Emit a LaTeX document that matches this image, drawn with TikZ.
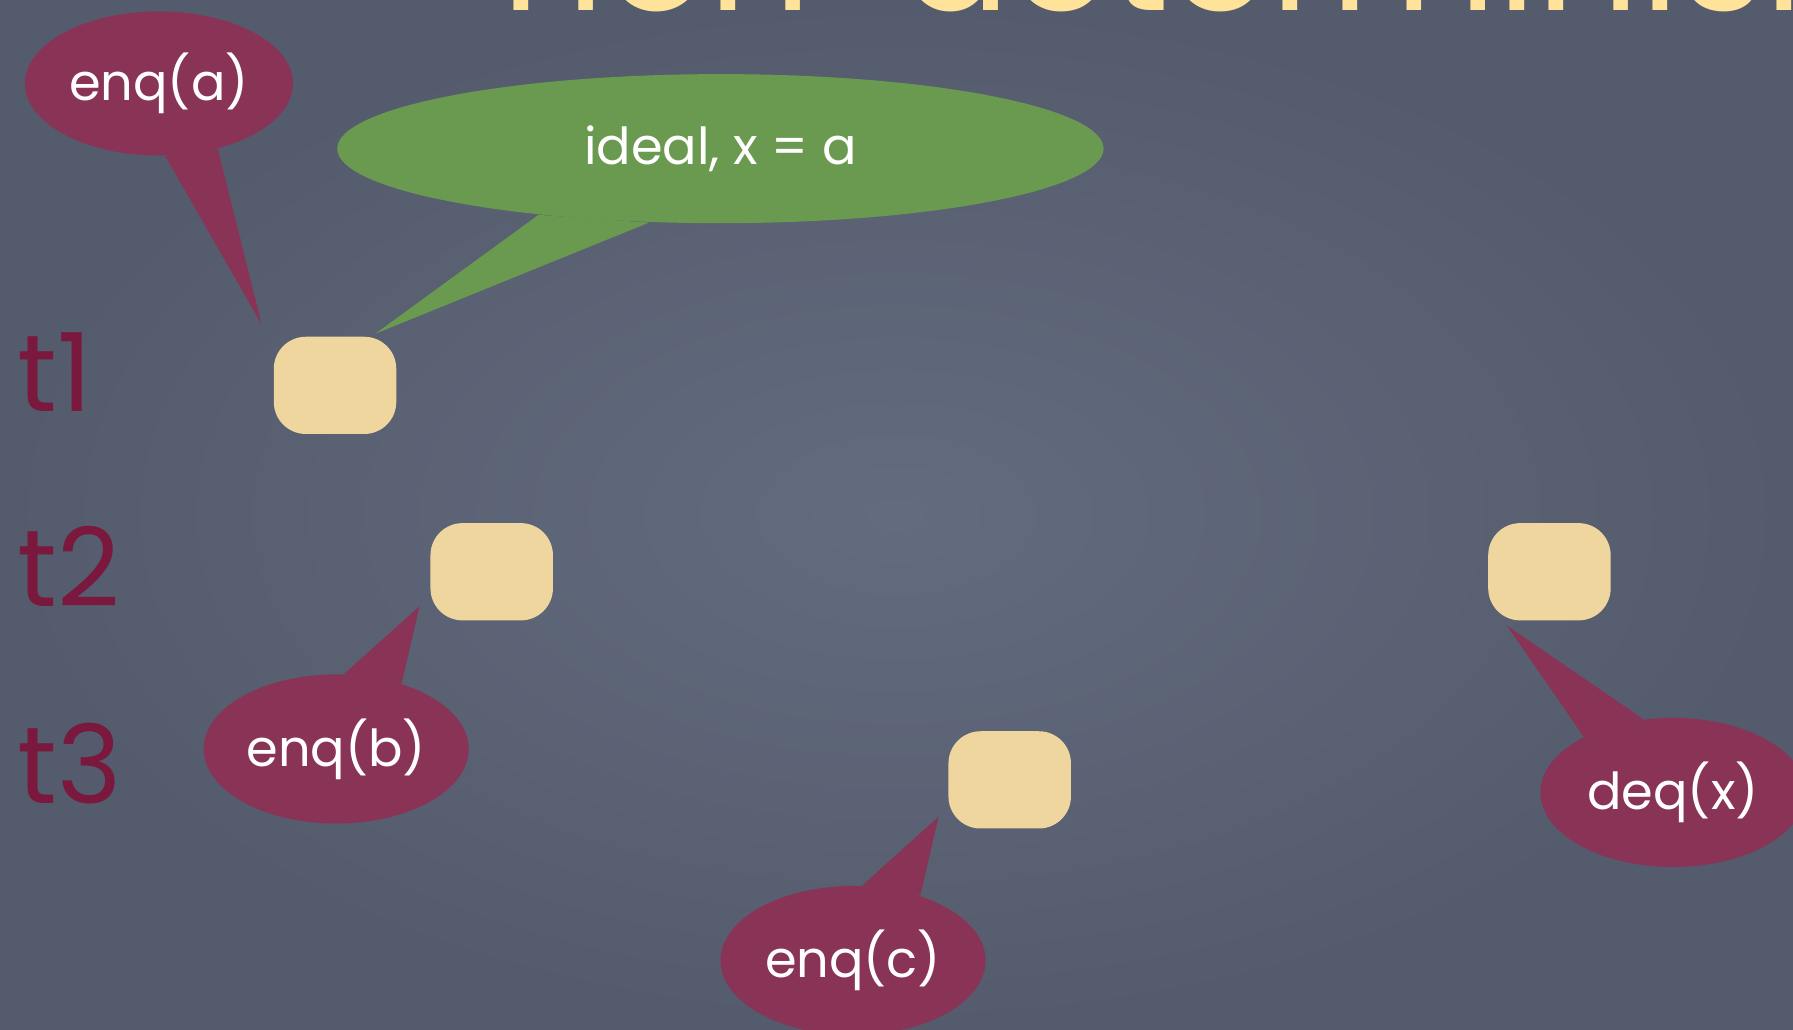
\documentclass[tikz,border=0pt]{standalone}
\usepackage{fontspec}
\setmainfont{Poppins}
\usepackage{xcolor}
\usetikzlibrary{calc,positioning,shapes.geometric}
\definecolor{boardhi}{HTML}{636B7F}
\definecolor{boardlo}{HTML}{545B6C}
\definecolor{plum}{HTML}{893456}
\definecolor{leaf}{HTML}{6A9950}
\definecolor{sand}{HTML}{EED69E}
\definecolor{chalkred}{HTML}{7A183E}
\definecolor{chalkyel}{HTML}{FFE39B}
\tikzset{
  slot/.style={rectangle, rounded corners=0.32cm, fill=sand, minimum width=1.224cm, minimum height=0.972cm, inner sep=0pt},
  bubble/.style={ellipse, fill=plum, text=white, inner sep=0pt, minimum width=2.65cm, minimum height=1.49cm, font=\fontsize{14.5}{17}\selectfont},
  idea/.style={bubble, fill=leaf, minimum width=7.66cm},
  rowlab/.style={anchor=west, inner sep=0pt, text=chalkred, font=\fontsize{31}{31}\selectfont},
  every picture/.style={line cap=round, line join=round}
}

\begin{document}
\begin{tikzpicture}[x=0.011435cm, y=-0.011435cm]
    % board
    \useasboundingbox (0,0) rectangle (1568,900);
    \shade[inner color=boardhi, outer color=boardlo] (0,0) rectangle (1568,900);
    % title, cut off by the top edge
    \node[anchor=base west, inner sep=0pt, text=chalkyel, font=\fontsize{46}{46}\selectfont] (title) at (438,9) {non-determinism};

    % time rows
    \node[rowlab] (t1) at (15,325) {t1};
    \node[rowlab] (t2) at (15,495) {t2};
    \node[rowlab] (t3) at (15,668) {t3};

    % slots
    \node[slot] (s1) at (293,337) {};
    \node[slot] (s2) at (430,500) {};
    \node[slot] (s3) at (1355,500) {};
    \node[slot] (s4) at (883,682) {};

    % callouts
    \node[bubble, minimum width=2.68cm, minimum height=1.44cm] (qa) at (139,73) {enq(a)};
    \node[idea] (id) at (630,130) {ideal, x = a};
    \node[bubble] (qb) at (294,655) {enq(b)};
    \node[bubble] (qc) at (746,840) {enq(c)};
    \node[bubble] (dx) at (1463,693) {deq(x)};

    \coordinate (pa) at ($(s1.north west)+(-10,-10)$);
    \coordinate (pi) at ($(s1.north east)+(-19,-2)$);
    \coordinate (pb) at ($(s2.south west)+(-9,-13)$);
    \coordinate (pc) at ($(s4.south west)+(-8,-11)$);
    \coordinate (px) at ($(s3.south west)+(17,4)$);

    \fill[plum] (qa.-85) -- (pa) -- (qa.-48) -- cycle;
    \fill[leaf] (id.200) -- (pi) -- (id.-134) -- cycle;
    \fill[plum] (qb.84) -- (pb) -- (qb.45) -- cycle;
    \fill[plum] (qc.83) -- (pc) -- (qc.44) -- cycle;
    \fill[plum] (dx.148) -- (px) -- (dx.112) -- cycle;
  \end{tikzpicture}
\end{document}
